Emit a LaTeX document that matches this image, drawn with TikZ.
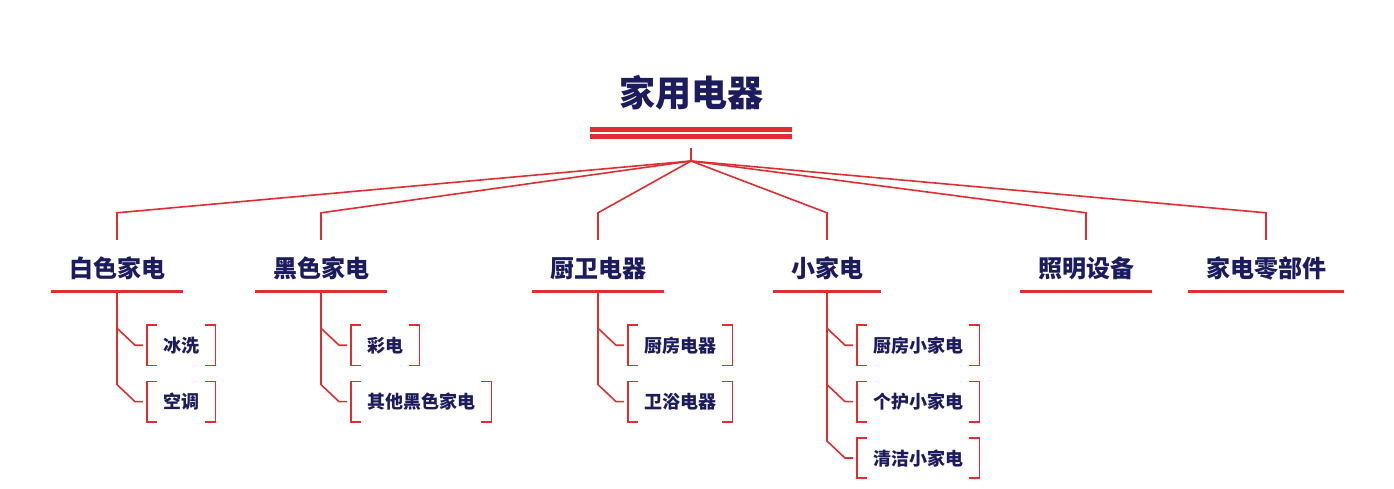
\documentclass[tikz,border=0pt]{standalone}
\usepackage{fontspec}
\usepackage{xcolor}
\usepackage{tikz}
\usetikzlibrary{positioning, calc}
\newfontfamily\cjk{Noto Sans CJK SC}
\definecolor{HANavy}{RGB}{27, 27, 94}
\definecolor{HARed}{RGB}{224, 45, 48}

\tikzset{
  rootlabel/.style={font=\cjk\bfseries\fontsize{36}{36}\selectfont, text=HANavy,
    text height=32pt, text depth=4pt, inner sep=0pt},
  catlabel/.style={font=\cjk\bfseries\fontsize{24}{24}\selectfont, text=HANavy,
    text height=21pt, text depth=3pt, inner xsep=17.5pt, inner ysep=11pt},
  itemlabel/.style={font=\cjk\bfseries\fontsize{18}{18}\selectfont, text=HANavy,
    text height=16pt, text depth=2pt, inner xsep=16pt, minimum height=40pt, anchor=west},
  link/.style={HARed, line width=1.6pt},
  bracket/.style={HARed, line width=1.6pt},
  underline/.style={HARed, line width=2.8pt},
}

\begin{document}
\begin{tikzpicture}[x=1pt, y=-1pt]
    \path[use as bounding box] (0,0) rectangle (1394,488);
    % title
    \node[rootlabel] (root) at (691,92) {家用电器};
    \draw[HARed, line width=5pt, double=white, double distance=2.3pt]
      ($(root)+(-101pt,-41pt)$) -- ++(202pt,0);
    \coordinate (hub) at ($(root)+(0,-69pt)$);
    \draw[link] (hub) -- ++(0,13pt);

    % categories
    \node[catlabel] (white) at (117,268) {白色家电};
    \node[catlabel] (black) at (321,268) {黑色家电};
    \node[catlabel] (kitchen) at (598,268) {厨卫电器};
    \node[catlabel] (small) at (827,268) {小家电};
    \node[catlabel] (light) at (1086,268) {照明设备};
    \node[catlabel] (parts) at (1266,268) {家电零部件};
    \foreach \c in {white, black, kitchen, small, light, parts} {
      \draw[link] (hub) -- ([yshift=32pt]\c.north) -- ([yshift=5pt]\c.north);
      \draw[underline] (\c.south west) -- (\c.south east);
    }

    % items
    \node[itemlabel] (fridge) at ([xshift=30pt, yshift=-54pt]white.south) {冰洗};
    \node[itemlabel, below=16pt of fridge.south west, anchor=north west] (aircon) {空调};
    \node[itemlabel] (tv) at ([xshift=30pt, yshift=-54pt]black.south) {彩电};
    \node[itemlabel, below=16pt of tv.south west, anchor=north west] (otherblack) {其他黑色家电};
    \node[itemlabel] (cook) at ([xshift=30pt, yshift=-54pt]kitchen.south) {厨房电器};
    \node[itemlabel, below=16pt of cook.south west, anchor=north west] (bath) {卫浴电器};
    \node[itemlabel] (smallcook) at ([xshift=30pt, yshift=-54pt]small.south) {厨房小家电};
    \node[itemlabel, below=16pt of smallcook.south west, anchor=north west] (care) {个护小家电};
    \node[itemlabel, below=16pt of care.south west, anchor=north west] (clean) {清洁小家电};

    \foreach \c/\s in {white/fridge, white/aircon, black/tv, black/otherblack,
        kitchen/cook, kitchen/bath, small/smallcook, small/care, small/clean} {
      \draw[link] (\c.south) -- ($(\s.west)+(-30pt,17pt)$)
        -- ($(\s.west)+(-12pt,0)$) -- ($(\s.west)+(-4pt,0)$);
      \draw[bracket] ([xshift=10pt]\s.north west) -| (\s.south west) -- ++(10pt,0);
      \draw[bracket] ([xshift=-10pt]\s.north east) -| (\s.south east) -- ++(-10pt,0);
    }
\end{tikzpicture}
\end{document}
